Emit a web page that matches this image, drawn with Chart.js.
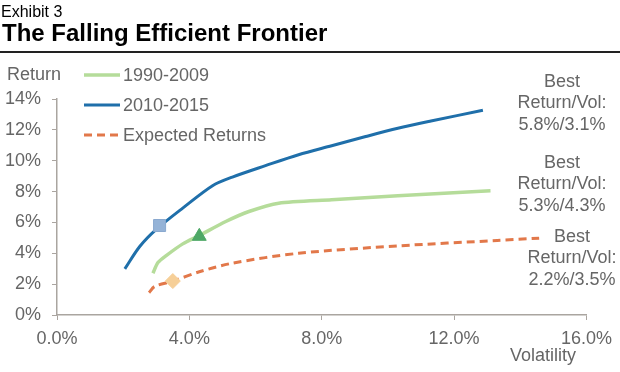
<!DOCTYPE html>
<html>
<head>
<meta charset="utf-8">
<script src="https://cdn.jsdelivr.net/npm/chart.js@4/dist/chart.umd.min.js"></script>
<style>
  body { margin: 0; background: #fff; }
  #wrap { position: relative; width: 620px; height: 372px; font-family: "Liberation Sans", Arial, sans-serif; }
  #sub { position: absolute; left: 1px; top: 4px; font-size: 16px; line-height: 16px; color: #000; }
  #title { position: absolute; left: 2px; top: 21px; font-size: 24px; line-height: 24px; font-weight: bold; color: #000; }
  #rule { position: absolute; left: 0; top: 51px; width: 620px; height: 2px; background: #222; }
  #chart { position: absolute; left: 0; top: 0; }
</style>
</head>
<body>
<div id="wrap">
  <canvas id="chart" width="620" height="372"></canvas>
  <div id="sub">Exhibit 3</div>
  <div id="title">The Falling Efficient Frontier</div>
  <div id="rule"></div>
</div>
<script>
// volatility (%) / return (%)
const vol2010 = [2.05, 2.5, 3.0, 3.8, 4.7, 5.3, 6.3, 7.3, 8.3, 9.3, 10.3, 11.3, 12.87];
const ret2010 = [2.99, 4.44, 5.55, 6.93, 8.38, 8.94, 9.68, 10.39, 10.97, 11.55, 12.1, 12.57, 13.27];

const vol1990 = [2.9, 3.05, 3.3, 3.8, 4.3, 5.1, 5.8, 6.7, 8.3, 10.3, 13.1];
const ret1990 = [2.71, 3.4, 3.85, 4.61, 5.15, 6.06, 6.71, 7.25, 7.47, 7.73, 8.05];

const volExp = [2.78, 2.95, 3.5, 4.3, 5.3, 7.3, 10.3, 13.3, 14.57];
const retExp = [1.45, 1.85, 2.2, 2.8, 3.36, 4.0, 4.48, 4.83, 4.98];

// best return/vol points
const best2010 = [3.1, 5.8];
const best1990 = [4.3, 5.1];
const bestExp = [3.5, 2.2];

const seriesLabels = ['1990-2009', '2010-2015', 'Expected Returns'];
const noteLabels = ['5.8%/3.1%', '5.3%/4.3%', '2.2%/3.5%'];
const volTicks = [0, 4, 8, 12, 16];
const retTicks = [0, 2, 4, 6, 8, 10, 12, 14];

const textColor = '#666666';
const axisColor = '#aaa5a0';
const font = '"Liberation Sans", Arial, sans-serif';
const blue = '#1f6faa';
const green = '#b5dc9a';
const orange = '#e2784a';

const pts = (xs, ys) => xs.map((x, i) => ({ x: x, y: ys[i] }));

const overlay = {
  id: 'overlay',
  afterDraw(chart) {
    const ctx = chart.ctx;
    ctx.save();
    ctx.font = '18px ' + font;
    ctx.fillStyle = textColor;
    ctx.textBaseline = 'middle';
    ctx.textAlign = 'left';
    ctx.fillText('Return', 7, 75);

    // legend
    const legendY = [75, 105, 135];
    const legendSets = [chart.data.datasets[3], chart.data.datasets[4], chart.data.datasets[5]];
    legendSets.forEach((ds, i) => {
      ctx.strokeStyle = ds.borderColor;
      ctx.lineWidth = ds.borderWidth;
      ctx.setLineDash(ds.borderDash || []);
      ctx.beginPath();
      ctx.moveTo(84, legendY[i]);
      ctx.lineTo(120, legendY[i]);
      ctx.stroke();
      ctx.setLineDash([]);
      ctx.fillText(ds.label, 123, legendY[i] + 1);
    });

    ctx.textAlign = 'center';
    ctx.fillText('Volatility', 543, 356);

    const noteX = [562, 562, 572];
    const noteY = [82, 163, 237];
    noteLabels.forEach((t, i) => {
      ctx.fillText('Best', noteX[i], noteY[i]);
      ctx.fillText('Return/Vol:', noteX[i], noteY[i] + 21.5);
      ctx.fillText(t, noteX[i], noteY[i] + 43);
    });
    ctx.restore();
  }
};

new Chart(document.getElementById('chart'), {
  type: 'scatter',
  data: {
    datasets: [
      { label: 'best2010', data: [{ x: best2010[0], y: best2010[1] }], pointStyle: 'rect', pointRadius: 8.5,
        backgroundColor: '#95b3d7', borderColor: '#8aa9cf', borderWidth: 1, order: 0 },
      { label: 'best1990', data: [{ x: best1990[0], y: best1990[1] }], pointStyle: 'triangle', pointRadius: 8,
        backgroundColor: '#4ea866', borderColor: '#4ea866', borderWidth: 1, order: 0 },
      { label: 'bestExp', data: [{ x: bestExp[0], y: bestExp[1] }], pointStyle: 'rectRot', pointRadius: 7.5,
        backgroundColor: '#f6cf98', borderColor: '#f6cf98', borderWidth: 1, order: 0 },
      { label: seriesLabels[0], data: pts(vol1990, ret1990), showLine: true, borderColor: green, borderWidth: 3.5,
        pointRadius: 0, tension: 0.25, order: 1 },
      { label: seriesLabels[1], data: pts(vol2010, ret2010), showLine: true, borderColor: blue, borderWidth: 3,
        pointRadius: 0, tension: 0.3, order: 1 },
      { label: seriesLabels[2], data: pts(volExp, retExp), showLine: true, borderColor: orange, borderWidth: 3,
        borderDash: [8, 5], pointRadius: 0, tension: 0.3, order: 1 }
    ]
  },
  options: {
    responsive: false,
    animation: false,
    layout: { padding: { top: 99, right: 31, left: 0, bottom: 0 } },
    plugins: { legend: { display: false }, tooltip: { enabled: false } },
    scales: {
      x: {
        type: 'linear', min: 0, max: 16,
        afterFit: s => { s.height = 57; },
        afterBuildTicks: s => { s.ticks = volTicks.map(v => ({ value: v })); },
        ticks: { color: textColor, font: { family: font, size: 18 }, padding: 8, maxRotation: 0,
          callback: v => v.toFixed(1) + '%' },
        grid: { drawOnChartArea: false, drawTicks: true, tickLength: 5, color: axisColor },
        border: { color: axisColor, width: 1.5 }
      },
      y: {
        min: 0, max: 14,
        afterFit: s => { s.width = 57; },
        afterBuildTicks: s => { s.ticks = retTicks.map(v => ({ value: v })); },
        ticks: { color: textColor, font: { family: font, size: 18 }, padding: 11,
          callback: v => v + '%' },
        grid: { drawOnChartArea: false, drawTicks: true, tickLength: 5, color: axisColor },
        border: { color: axisColor, width: 1.5 }
      }
    }
  },
  plugins: [overlay]
});
</script>
</body>
</html>
